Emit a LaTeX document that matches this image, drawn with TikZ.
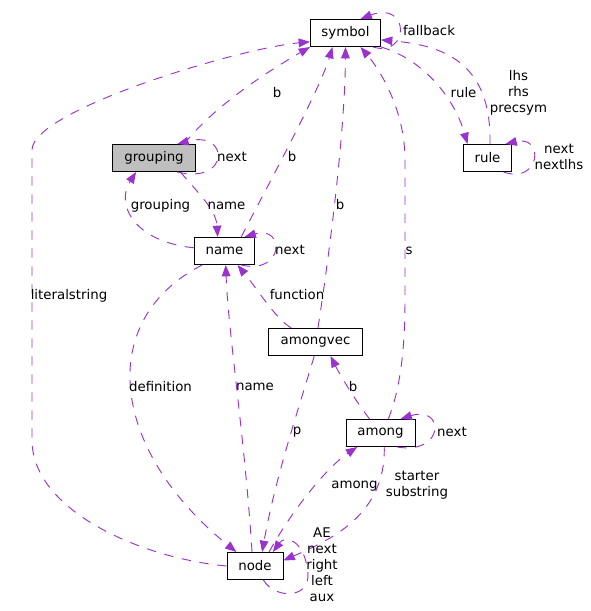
\documentclass[tikz,border=0pt]{standalone}
\usepackage{fontspec}
\setmainfont{DejaVu Sans}
\usetikzlibrary{arrows.meta}
\definecolor{usecol}{RGB}{154,50,205}
\definecolor{boxgray}{RGB}{191,191,191}
\tikzset{
  cls/.style={draw=black,fill=white,line width=0.75pt,inner sep=0pt,minimum height=20.25pt,font=\fontsize{10}{12}\selectfont},
  lbl/.style={inner sep=0pt,align=center,font=\fontsize{10}{12}\selectfont},
  usage/.style={draw=usecol,line width=0.7pt,dash pattern=on 7pt off 6.5pt,-{Triangle[length=8.5pt,width=6.5pt]}}
}
\begin{document}
\begin{tikzpicture}[x=0.75pt,y=-0.75pt]
\useasboundingbox (0,0) rectangle (591,611);
\node[cls,minimum width=52.5pt] (symbol) at (345.5,33) {symbol};
\node[cls,fill=boxgray,minimum width=62.25pt] (grouping) at (154,158) {grouping};
\node[cls,minimum width=36pt] (rule) at (487.5,158) {rule};
\node[cls,minimum width=45pt] (name) at (224.5,251) {name};
\node[cls,minimum width=70.5pt] (amongvec) at (315.5,342) {amongvec};
\node[cls,minimum width=51.75pt] (among) at (380.5,433) {among};
\node[cls,minimum width=42pt] (astnode) at (255,566) {node};
\draw[usage] (astnode.west) .. controls (140,558) and (32,510) .. (32,440) -- (32,150) .. controls (32,110) and (240,48) .. (symbol.194);
\draw[usage] (symbol.-27) .. controls (410,58) and (410,0) .. (symbol.43);
\draw[usage] (rule.80) .. controls (492,60) and (440,45) .. (symbol.-11);
\draw[usage] (symbol.south east) .. controls (425,60) and (455,100) .. (rule.145);
\draw[usage] (rule.-41) .. controls (540,185) and (545,135) .. (rule.38);
\draw[usage] (grouping.25) .. controls (215,105) and (270,70) .. (symbol.south west);
\draw[usage] (grouping.-31) .. controls (230,185) and (230,130) .. (grouping.31);
\draw[usage] (grouping.-28) .. controls (200,195) and (216,210) .. (name.116);
\draw[usage] (name.174) .. controls (135,242) and (115,205) .. (grouping.218);
\draw[usage] (name.40) .. controls (260,200) and (320,90) .. (symbol.227);
\draw[usage] (name.-40) .. controls (285,275) and (285,225) .. (name.35);
\draw[usage] (amongvec.80) .. controls (330,250) and (345,130) .. (symbol.south);
\draw[usage] (among.61) .. controls (400,390) and (405,350) .. (405,300) -- (405,160) .. controls (405,110) and (380,70) .. (symbol.-43);
\draw[usage] (amongvec.150) .. controls (275,318) and (258,290) .. (name.-47);
\draw[usage] (astnode.102) .. controls (245,440) and (228,330) .. (name.-85);
\draw[usage] (name.212) .. controls (95,320) and (110,450) .. (astnode.143);
\draw[usage] (amongvec.-95) .. controls (295,420) and (275,480) .. (astnode.63);
\draw[usage] (among.128) .. controls (355,400) and (340,375) .. (amongvec.-43);
\draw[usage] (among.-40) .. controls (445,455) and (445,405) .. (among.35);
\draw[usage] (astnode.45) .. controls (295,505) and (330,465) .. (among.211);
\draw[usage] (among.-75) .. controls (386,515) and (330,540) .. (astnode.11);
\draw[usage] (astnode.-59) .. controls (275,600) and (315,600) .. (307,567) .. controls (303,540) and (285,535) .. (astnode.38);
\node[lbl] (lfallback) at (429,31) {fallback};
\node[lbl] (lrule) at (463.5,93) {rule};
\node[lbl] (llhs) at (518.5,93) {lhs\\rhs\\precsym};
\node[lbl] (lrulenext) at (559,157) {next\\nextlhs};
\node[lbl] (lgroupb) at (277,93) {b};
\node[lbl] (lgroupnext) at (232,157) {next};
\node[lbl] (lnameb) at (292,157) {b};
\node[lbl] (lgrouping) at (160.5,206) {grouping};
\node[lbl] (lgroupname) at (226.5,206) {name};
\node[lbl] (lnamenext) at (290,250) {next};
\node[lbl] (lliteral) at (69,296) {literalstring};
\node[lbl] (lvecb) at (340,205) {b};
\node[lbl] (ls) at (409,251) {s};
\node[lbl] (lfunction) at (297,295) {function};
\node[lbl] (ldefinition) at (160.5,387) {definition};
\node[lbl] (lnodename) at (255,387) {name};
\node[lbl] (lamongb) at (353,387) {b};
\node[lbl] (lp) at (297,432) {p};
\node[lbl] (lamongnext) at (452,432) {next};
\node[lbl] (lamong) at (354.5,486) {among};
\node[lbl] (lstarter) at (417,485) {starter\\substring};
\node[lbl] (lnodeloop) at (322,565) {AE\\next\\right\\left\\aux};
\end{tikzpicture}
\end{document}
